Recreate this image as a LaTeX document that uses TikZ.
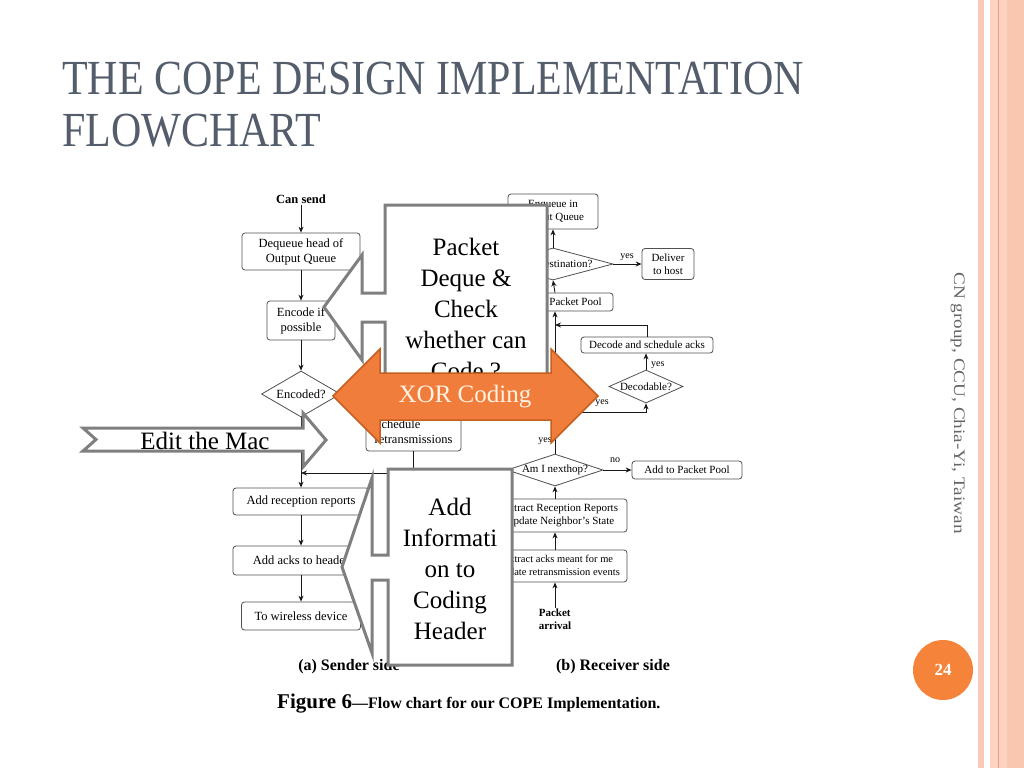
\documentclass[tikz,border=0pt]{standalone}
\usepackage{fontspec}
\setmainfont{Liberation Serif}
\usepackage{graphicx}
\usetikzlibrary{shapes.geometric,arrows.meta}
\definecolor{titlegray}{HTML}{535D6C}
\definecolor{boxline}{HTML}{505050}
\definecolor{callgray}{HTML}{7F7F7F}
\definecolor{xorfill}{HTML}{F07D3B}
\definecolor{xordraw}{HTML}{C4601F}
\definecolor{xortext}{HTML}{FFF3E3}
\definecolor{pgorange}{HTML}{F5833A}
\definecolor{stripeA}{HTML}{F9CAB7}
\definecolor{stripeB}{HTML}{FCD2C1}
\definecolor{stripeC}{HTML}{F9C6B0}
\definecolor{stripeL}{HTML}{E6A080}
\definecolor{sidegray}{HTML}{666666}
\tikzset{
 sbox/.style={draw=boxline, rounded corners=3pt, line width=0.8pt, inner sep=0pt, align=center, fill=white, font=\fontsize{12.5}{15}\selectfont},
 rbox/.style={draw=boxline, rounded corners=3pt, line width=0.8pt, inner sep=0pt, align=center, fill=white, font=\fontsize{11}{13}\selectfont},
 sdia/.style={draw=boxline, diamond, line width=0.8pt, inner sep=0pt, fill=white, font=\fontsize{12.5}{15}\selectfont},
 rdia/.style={draw=boxline, diamond, line width=0.8pt, inner sep=0pt, fill=white, font=\fontsize{11}{13}\selectfont},
 flow/.style={-{Stealth[length=6pt,width=5pt]}, line width=0.9pt, draw=black!90},
 yn/.style={font=\fontsize{10}{12}\selectfont, inner sep=1pt},
 callout/.style={fill=white, draw=callgray, line width=3pt, line join=miter},
 calltext/.style={font=\fontsize{25}{31}\selectfont, align=center, inner sep=0pt},
 bigarrow/.style={fill=xorfill, draw=xordraw, line width=1.5pt, line join=miter},
 capt/.style={font=\bfseries\fontsize{16}{19}\selectfont, inner sep=0pt},
 lbl/.style={font=\bfseries\fontsize{12.5}{15}\selectfont, inner sep=1pt},
 titletext/.style={anchor=base west, inner sep=0pt, text=titlegray, font=\fontsize{49}{56}\selectfont},
}
\begin{document}
\begin{tikzpicture}[x=1pt,y=-1pt]
\useasboundingbox (0,0) rectangle (1024,768);
\fill[white] (0,0) rectangle (1024,768);
% right border stripes
\fill[stripeA] (978,0) rectangle (984,768);
\fill[stripeB] (990,0) rectangle (1024,768);
\fill[stripeC] (1007,0) rectangle (1024,768);
\draw[stripeL, line width=1pt] (998.5,0) -- (998.5,768);
% title
\node[titletext] (t1) at (62,94.5) {\scalebox{0.857}[1]{THE COPE DESIGN IMPLEMENTATION}};
\node[titletext] (t2) at (62,146.5) {\scalebox{0.857}[1]{FLOWCHART}};
% side text and page number
\node[rotate=-90, text=sidegray, inner sep=0pt, font=\fontsize{16}{18}\selectfont] (side) at (958,403) {\scalebox{1.2}[1]{CN group, CCU, Chia-Yi, Taiwan}};
\node[circle, fill=pgorange, minimum size=60, inner sep=0pt, text=white, font=\bfseries\fontsize{17}{20}\selectfont] (pg) at (943,670) {24};

% ---------- sender side ----------
\node[lbl] (cansend) at (301,199) {Can send};
\node[sbox, minimum width=118, minimum height=37] (dq) at (301,251.5) {Dequeue head of\\Output Queue};
\node[sbox, minimum width=68, minimum height=39] (enc) at (301,320.5) {Encode if\\possible};
\node[sdia, minimum width=79, minimum height=46, shape aspect=1.7] (encq) at (301,394) {Encoded?};
\node[sbox, align=left, minimum width=95, minimum height=39] (sched) at (413.5,431.5) {Schedule\\retransmissions};
\node[sbox, minimum width=136, minimum height=27] (arr) at (301,501.5) {Add reception reports};
\node[sbox, minimum width=136, minimum height=29] (aah) at (301,560.5) {Add acks to header};
\node[sbox, minimum width=119, minimum height=28] (twd) at (301,616) {To wireless device};
\coordinate (js) at (301,473);

\draw[flow] (cansend) -- (dq);
\draw[flow] (dq) -- (enc);
\draw[flow] (enc) -- (encq);
\draw[flow] (encq) -- (arr);
\draw[flow] (sched.south) |- (js);
\draw[flow] (arr) -- (aah);
\draw[flow] (aah) -- (twd);

% ---------- receiver side ----------
\node[rbox, minimum width=90, minimum height=35] (enq) at (553,211.5) {Enqueue in\\Output Queue};
\node[rdia, minimum width=120, minimum height=32, shape aspect=3.75] (dest) at (553,264) {Am I destination?};
\node[rbox, minimum width=52, minimum height=31] (dlv) at (668,264) {Deliver\\to host};
\node[rbox, minimum width=108, minimum height=18] (app1) at (559,302) {Add to Packet Pool};
\node[rbox, minimum width=132, minimum height=16] (dsa) at (647,345) {Decode and schedule acks};
\node[rdia, minimum width=74, minimum height=33, shape aspect=2.24] (dec) at (646,386.5) {Decodable?};
\node[rdia, minimum width=91, minimum height=30, shape aspect=3] (nh) at (555,470) {Am I nexthop?};
\node[rbox, minimum width=110, minimum height=18] (app2) at (687,470) {Add to Packet Pool};
\node[rbox, minimum width=134, minimum height=33] (err) at (560,515.5) {Extract Reception Reports\\Update Neighbor’s State};
\node[rbox, minimum width=138, minimum height=32, font=\fontsize{10.5}{13}\selectfont] (eam) at (558,566) {Extract acks meant for me\\Update retransmission events};
\node[font=\bfseries\fontsize{11}{12.5}\selectfont, align=left, inner sep=1pt] (parr) at (555,619) {Packet\\arrival};
\coordinate (jr) at (555,412);
\coordinate (jr2) at (555,325);

\draw[flow] (parr) -- (eam.south -| nh.center);
\draw[flow] (eam.north -| nh.center) -- (err.south -| nh.center);
\draw[flow] (err.north -| nh.center) -- (nh.south);
\draw[flow] (nh.east) -- (app2.west);
\draw[flow] (nh.north) -- (jr) -| (dec.south);
\draw[flow] (jr) -- (jr |- app1.south);
\draw[flow] (dsa.north) |- (jr2);
\draw[flow] (dec.north) -- (dsa.south -| dec.north);
\draw[flow] (jr |- app1.north) -- (dest.south);
\draw[flow] (dest.north) -- (enq.south);
\draw[flow] (dest.east) -- (dlv.west);

\node[yn] (y1) at (627,257) {yes};
\node[yn, anchor=west] (y2) at (650,365) {yes};
\node[yn] (y3) at (602,403) {yes};
\node[yn] (y4) at (545,441) {yes};
\node[yn] (n1) at (615,460) {no};

% captions
\node[capt] (capa) at (349,667) {(a) Sender side};
\node[capt] (capb) at (613,667) {(b) Receiver side};
\node[anchor=base west, inner sep=0pt] (fig) at (277,708) {\bfseries\fontsize{21}{24}\selectfont Figure 6\fontsize{16}{19}\selectfont —Flow chart for our COPE Implementation.};

% ---------- overlays ----------
\draw[callout] (385,205) -- (547,205) -- (547,395) -- (385,395) -- (385,322) -- (362,322) -- (362,360) -- (324,307) -- (362,255) -- (362,293) -- (385,293) -- cycle;
\node[calltext] (c1) at (466,309) {Packet\\Deque \&\\Check\\whether can\\Code ?};

\draw[callout] (388,469) -- (512,469) -- (512,665) -- (388,665) -- (388,580) -- (372,580) -- (372,653) -- (342,567) -- (372,478) -- (372,555) -- (388,555) -- cycle;
\node[calltext] (c2) at (450,569) {Add\\Informati\\on to\\Coding\\Header};

\draw[callout] (83,428) -- (303,428) -- (303,413) -- (326,440) -- (303,467) -- (303,451) -- (83,451) -- (96,439.5) -- cycle;
\node[calltext] (mac) at (205,441) {Edit the Mac};

\draw[bigarrow] (333,396) -- (380,349) -- (380,373) -- (551,373) -- (551,349) -- (598,396) -- (551,443) -- (551,420) -- (380,420) -- (380,443) -- cycle;
\node[calltext, text=xortext] (xor) at (465,397) {XOR Coding};
\end{tikzpicture}
\end{document}
